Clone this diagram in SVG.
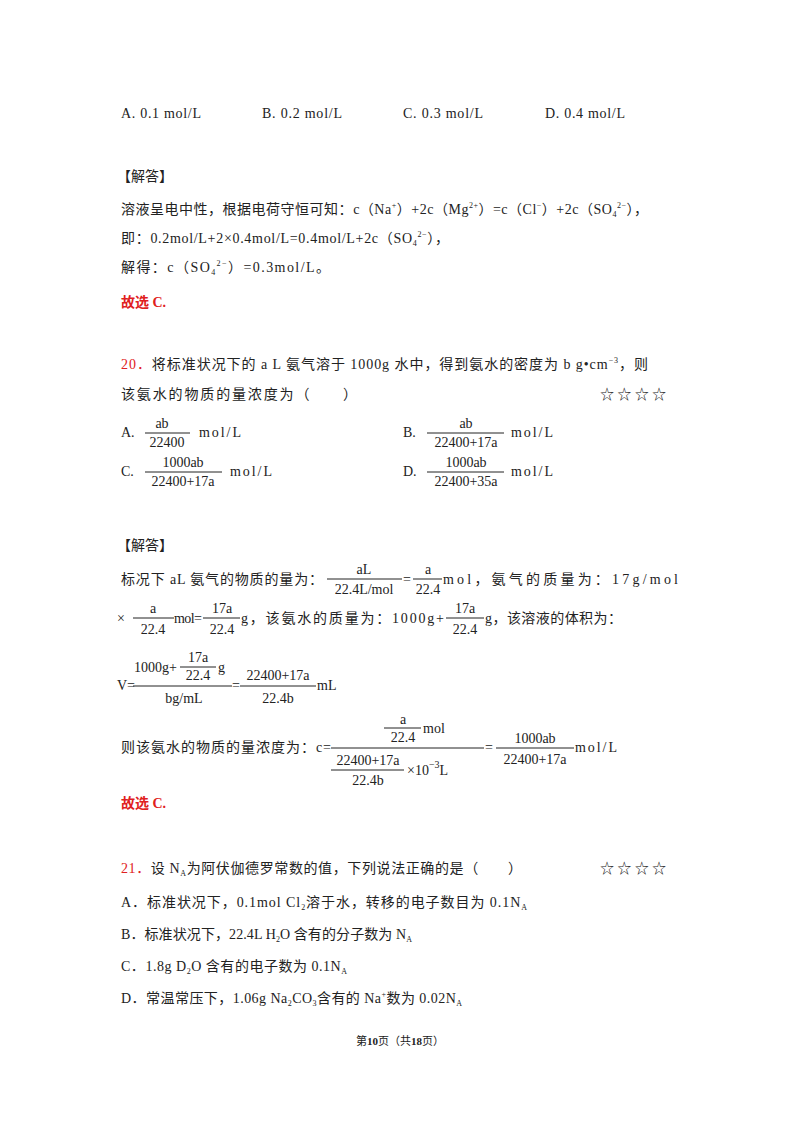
<svg xmlns="http://www.w3.org/2000/svg" width="800" height="1132" viewBox="0 0 800 1132">
<style>
text{font-family:"Liberation Serif","Noto Sans CJK SC",serif;font-size:14px;fill:#222}
.r{fill:#e02020;font-weight:bold}
.s{font-size:8px}
.f{stroke:#222;stroke-width:1}
.m{text-anchor:middle}
</style>
<rect width="800" height="1132" fill="#fff"/>
<text x="121" y="118" textLength="80">A. 0.1 mol/L</text>
<text x="262" y="118" textLength="80">B. 0.2 mol/L</text>
<text x="403" y="118" textLength="80">C. 0.3 mol/L</text>
<text x="545" y="118" textLength="80">D. 0.4 mol/L</text>
<text x="117" y="181">【解答】</text>
<text x="121" y="214" textLength="527">溶液呈电中性，根据电荷守恒可知：c（Na<tspan class="s" dy="-6">+</tspan><tspan dy="6">）+2c（Mg</tspan><tspan class="s" dy="-6">2+</tspan><tspan dy="6">）=c（Cl</tspan><tspan class="s" dy="-6">−</tspan><tspan dy="6">）+2c（SO</tspan><tspan class="s" dy="3">4</tspan><tspan class="s" dy="-9">2−</tspan><tspan dy="6">），</tspan></text>
<text x="121" y="243" textLength="328">即：0.2mol/L+2×0.4mol/L=0.4mol/L+2c（SO<tspan class="s" dy="3">4</tspan><tspan class="s" dy="-9">2−</tspan><tspan dy="6">），</tspan></text>
<text x="121" y="272" textLength="209">解得：c（SO<tspan class="s" dy="3">4</tspan><tspan class="s" dy="-9">2−</tspan><tspan dy="6">）=0.3mol/L。</tspan></text>
<text class="r" x="121" y="307">故选 C.</text>
<text x="121" y="369" textLength="527"><tspan class="r" style="font-weight:normal">20．</tspan>将标准状况下的 a L 氨气溶于 1000g 水中，得到氨水的密度为 b g•cm<tspan class="s" dy="-6">−3</tspan><tspan dy="6">，则</tspan></text>
<text x="121" y="399" textLength="236">该氨水的物质的量浓度为（　　）</text>
<text x="600" y="399" textLength="66">☆☆☆☆</text>
<g id="opt20">
<text x="121" y="437">A.</text>
<text class="m" x="162" y="428">ab</text><line class="f" x1="145" y1="433" x2="190" y2="433"/><text class="m" x="167" y="447">22400</text>
<text x="199" y="437" textLength="42">mol/L</text>
<text x="403" y="437">B.</text>
<text class="m" x="466" y="428">ab</text><line class="f" x1="427" y1="433" x2="504" y2="433"/><text class="m" x="466" y="447">22400+17a</text>
<text x="511" y="437" textLength="42">mol/L</text>
<text x="121" y="476">C.</text>
<text class="m" x="183" y="467">1000ab</text><line class="f" x1="145" y1="472" x2="222" y2="472"/><text class="m" x="183" y="486">22400+17a</text>
<text x="230" y="476" textLength="42">mol/L</text>
<text x="403" y="476">D.</text>
<text class="m" x="466" y="467">1000ab</text><line class="f" x1="427" y1="472" x2="504" y2="472"/><text class="m" x="466" y="486">22400+35a</text>
<text x="511" y="476" textLength="42">mol/L</text>
</g>
<text x="117" y="550">【解答】</text>
<g id="sol20">
<text x="121" y="584" textLength="202">标况下 aL 氨气的物质的量为：</text>
<text class="m" x="364" y="574">aL</text><line class="f" x1="327" y1="579" x2="402" y2="579"/><text class="m" x="364" y="594">22.4L/mol</text>
<text x="403" y="584">=</text>
<text class="m" x="428" y="574">a</text><line class="f" x1="413" y1="579" x2="442" y2="579"/><text class="m" x="428" y="594">22.4</text>
<text x="443" y="584" textLength="235">mol，氨气的质量为：17g/mol</text>
<text x="117" y="623">×</text>
<text class="m" x="153" y="613">a</text><line class="f" x1="133" y1="618" x2="174" y2="618"/><text class="m" x="153" y="634">22.4</text>
<text x="174" y="623" textLength="28">mol=</text>
<text class="m" x="222" y="613">17a</text><line class="f" x1="203" y1="618" x2="240" y2="618"/><text class="m" x="222" y="634">22.4</text>
<text x="241" y="623" textLength="203">g，该氨水的质量为：1000g+</text>
<text class="m" x="465" y="613">17a</text><line class="f" x1="446" y1="618" x2="484" y2="618"/><text class="m" x="465" y="634">22.4</text>
<text x="485" y="623" textLength="137">g，该溶液的体积为：</text>
<text x="117" y="690">V=</text>
<text x="134" y="672">1000g+</text>
<text class="m" x="198" y="662">17a</text><line class="f" x1="180" y1="667" x2="216" y2="667"/><text class="m" x="198" y="680">22.4</text>
<text x="218" y="672">g</text>
<line class="f" x1="133" y1="686" x2="232" y2="686"/>
<text class="m" x="184" y="703">bg/mL</text>
<text x="232" y="690">=</text>
<text class="m" x="278" y="680">22400+17a</text><line class="f" x1="240" y1="686" x2="316" y2="686"/><text class="m" x="278" y="703">22.4b</text>
<text x="317" y="690">mL</text>
<text x="121" y="752" textLength="210">则该氨水的物质的量浓度为：c=</text>
<text class="m" x="403" y="724">a</text><line class="f" x1="384" y1="728" x2="421" y2="728"/><text class="m" x="403" y="742">22.4</text>
<text x="423" y="733">mol</text>
<line class="f" x1="331" y1="748" x2="484" y2="748"/>
<text class="m" x="368" y="765">22400+17a</text><line class="f" x1="331" y1="770" x2="404" y2="770"/><text class="m" x="368" y="785">22.4b</text>
<text x="407" y="775">×10<tspan class="s" dy="-7" style="font-size:10px">−3</tspan><tspan dy="7">L</tspan></text>
<text x="485" y="752">=</text>
<text class="m" x="535" y="743">1000ab</text><line class="f" x1="496" y1="748" x2="574" y2="748"/><text class="m" x="535" y="764">22400+17a</text>
<text x="575" y="752" textLength="42">mol/L</text>
</g>
<text class="r" x="121" y="808">故选 C.</text>
<text x="121" y="873" textLength="401"><tspan class="r" style="font-weight:normal">21．</tspan>设 N<tspan class="s" dy="3">A</tspan><tspan dy="-3">为阿伏伽德罗常数的值，下列说法正确的是（　　）</tspan></text>
<text x="600" y="873" textLength="66">☆☆☆☆</text>
<text x="121" y="907" textLength="406">A．标准状况下，0.1mol Cl<tspan class="s" dy="3">2</tspan><tspan dy="-3">溶于水，转移的电子数目为 0.1N</tspan><tspan class="s" dy="3">A</tspan></text>
<text x="121" y="939" textLength="291">B．标准状况下，22.4L H<tspan class="s" dy="3">2</tspan><tspan dy="-3">O 含有的分子数为 N</tspan><tspan class="s" dy="3">A</tspan></text>
<text x="121" y="971" textLength="226">C．1.8g D<tspan class="s" dy="3">2</tspan><tspan dy="-3">O 含有的电子数为 0.1N</tspan><tspan class="s" dy="3">A</tspan></text>
<text x="121" y="1003" textLength="341">D．常温常压下，1.06g Na<tspan class="s" dy="3">2</tspan><tspan dy="-3">CO</tspan><tspan class="s" dy="3">3</tspan><tspan dy="-3">含有的 Na</tspan><tspan class="s" dy="-6">+</tspan><tspan dy="6">数为 0.02N</tspan><tspan class="s" dy="3">A</tspan></text>
<text class="m" x="400" y="1045" style="font-size:11px">第<tspan font-weight="bold">10</tspan>页（共<tspan font-weight="bold">18</tspan>页）</text>
</svg>
